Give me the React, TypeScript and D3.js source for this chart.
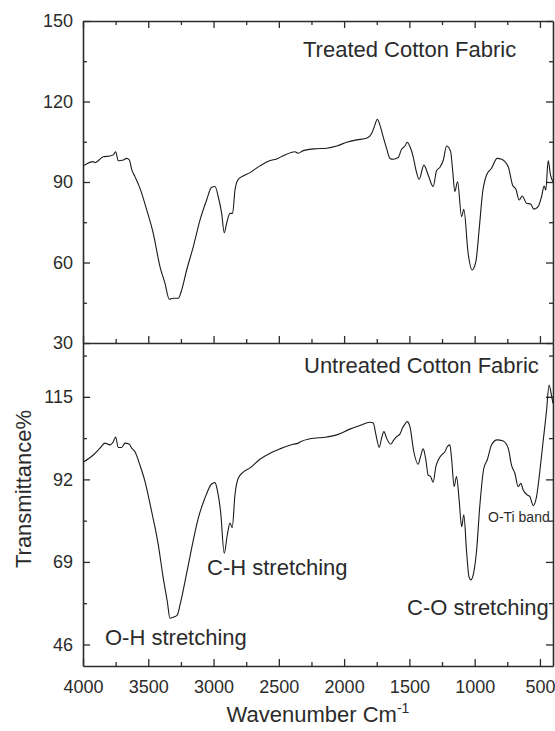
import { useEffect, useRef } from "react";
import * as d3 from "d3";

// spectra: wavenumber (cm-1) and transmittance %
const treatedWn = [
  3998, 3921, 3908, 3845, 3793, 3768, 3750, 3730, 3691, 3665, 3645, 3627, 3602, 3564, 3512, 3462,
  3410, 3372, 3339, 3309, 3270, 3244, 3206, 3155, 3104, 3053, 3015, 2989, 2964, 2938, 2918, 2900,
  2874, 2854, 2836, 2811, 2773, 2721, 2645, 2567, 2517, 2466, 2377, 2351, 2313, 2211, 2134, 2057,
  1981, 1904, 1828, 1789, 1764, 1746, 1726, 1701, 1675, 1649, 1624, 1586, 1560, 1534, 1517, 1496,
  1471, 1450, 1425, 1389, 1356, 1318, 1292, 1266, 1241, 1215, 1184, 1169, 1152, 1131, 1100, 1083,
  1050, 1019, 991, 966, 940, 909, 871, 828, 794, 743, 710, 684, 659, 636, 603, 572,
  547, 514, 488, 468, 455, 437, 419, 400,
];
const treatedPct = [
  96, 97.6, 97.2, 99.4, 99.7, 100.1, 101.3, 97.9, 98.2, 98.8, 98.2, 94.7, 92, 87.7, 79.6, 70.9,
  58.4, 52.2, 46.3, 46.7, 46.7, 49.8, 57.2, 65.9, 75.8, 83.3, 88, 88.3, 84.5, 78.3, 71.1, 74.6,
  78.3, 78.3, 87, 91, 92.2, 93.5, 96, 98, 98.6, 99.8, 101.3, 100.7, 101.7, 102.4, 102.6, 103.4,
  104.8, 105.7, 106.3, 108.1, 111.3, 113.4, 111.3, 106.9, 102.6, 98.8, 98.5, 99.1, 102.2, 103.4, 104.8, 103.2,
  99.4, 94.5, 91, 96.3, 92.6, 88.3, 94.2, 95.5, 98, 103.4, 101.3, 94.5, 86.4, 90.1, 77.1, 79.8,
  63.4, 57.2, 60.3, 72.1, 85.8, 92.6, 95.1, 98.8, 98.5, 95.7, 88.9, 87.3, 83.3, 84.8, 82.1, 81.8,
  79.9, 80.8, 84.5, 88.5, 87, 98, 92.6, 90.1,
];

const untreatedWn = [
  3998, 3921, 3870, 3832, 3793, 3768, 3750, 3730, 3704, 3678, 3645, 3627, 3602, 3564, 3525, 3474,
  3423, 3385, 3354, 3334, 3309, 3278, 3257, 3219, 3168, 3117, 3066, 3015, 2989, 2969, 2946, 2918,
  2895, 2874, 2857, 2836, 2811, 2773, 2721, 2645, 2567, 2492, 2390, 2351, 2338, 2262, 2134, 2057,
  1956, 1879, 1802, 1777, 1756, 1731, 1713, 1695, 1675, 1644, 1619, 1598, 1573, 1553, 1534, 1517,
  1496, 1466, 1433, 1414, 1394, 1376, 1356, 1338, 1318, 1297, 1279, 1254, 1228, 1210, 1190, 1177,
  1157, 1139, 1118, 1100, 1083, 1062, 1044, 1029, 1006, 986, 960, 930, 904, 871, 828, 782,
  743, 718, 692, 667, 646, 629, 598, 577, 552, 526, 501, 476, 450, 430, 412, 400,
];
const untreatedPct = [
  96.8, 98.8, 100.7, 102.1, 101.6, 102.5, 103.8, 100.9, 100.9, 102.1, 101.8, 100.7, 99.7, 96, 91.4, 83,
  73.7, 64.4, 57.9, 53.3, 53.6, 54.2, 57, 63.5, 72.8, 81.2, 86.8, 90.7, 91.1, 88.6, 83, 71.4,
  76.5, 79.8, 78.6, 87.7, 92.3, 94, 95.2, 97.6, 99.3, 100.5, 101.8, 102.1, 102.4, 103.3, 103.8, 104.4,
  106, 107, 107.9, 107.7, 104.4, 100.9, 103.5, 105.3, 103.5, 101.8, 103, 103.9, 104.6, 106.3, 107.4, 108.1,
  106.7, 99.7, 96.2, 98.4, 100.5, 97.9, 93.2, 92.8, 91.2, 95.6, 97.4, 98.8, 99.7, 101.1, 101.6, 97.9,
  90, 92.8, 85.8, 78.8, 82.1, 71.9, 64.9, 64, 66.3, 71.9, 84.9, 95.1, 97.4, 101.6, 103, 102.7,
  100.7, 96, 93.7, 90, 90.9, 89.1, 87.7, 87.2, 84.7, 87.2, 94.2, 102.5, 110.9, 118.3, 115.5, 113.2,
];

const xMajor = [4000, 3500, 3000, 2500, 2000, 1500, 1000, 500];
const xMinor = [3750, 3250, 2750, 2250, 1750, 1250, 750];
const topMajor = [30, 60, 90, 120, 150];
const topMinor = [45, 75, 105, 135];
const botMajor = [46, 69, 92, 115];
const botMinor = [57.5, 80.5, 103.5, 126.5];

const font = "'Liberation Sans', Arial, sans-serif";
const ink = "#2b2b2b";

const App = () => {
  const chartRef = useRef<SVGSVGElement>(null);

  useEffect(() => {
    document.body.style.margin = "0";
    const svg = d3.select(chartRef.current);
    svg.selectAll("*").remove();

    const left = 83, right = 553, top = 21, mid = 343, bottom = 666;

    const x = d3.scaleLinear().domain([4000, 400]).range([left, right]);
    const yTop = d3.scaleLinear().domain([30, 150]).range([mid, top]);
    const yBot = d3.scaleLinear().domain([40, 130]).range([bottom, mid]);
    const fmt = d3.format("d");

    // ticks pointing inward on every side
    const addAxis = (axis: any, tx: number, ty: number, labels: boolean) => {
      const g = svg.append("g").attr("transform", `translate(${tx},${ty})`).call(axis.tickFormat(fmt));
      g.selectAll("line").attr("stroke", ink).attr("stroke-width", 1.3);
      g.select(".domain").attr("stroke", ink).attr("stroke-width", 1.6);
      g.selectAll("text")
        .attr("fill", ink)
        .style("font-family", font)
        .style("font-size", "18px");
      if (!labels) g.selectAll("text").remove();
      return g;
    };
    const addMinor = (axis: any, tx: number, ty: number) => {
      const g = svg.append("g").attr("transform", `translate(${tx},${ty})`).call(axis);
      g.select(".domain").remove();
      g.selectAll("text").remove();
      g.selectAll("line").attr("stroke", ink).attr("stroke-width", 1.3);
    };

    // top panel
    addAxis(d3.axisLeft(yTop).tickValues(topMajor).tickSize(-7).tickSizeOuter(0).tickPadding(10), left, 0, true);
    addMinor(d3.axisLeft(yTop).tickValues(topMinor).tickSize(-4), left, 0);
    addAxis(d3.axisRight(yTop).tickValues(topMajor).tickSize(-7).tickSizeOuter(0), right, 0, false);
    addMinor(d3.axisRight(yTop).tickValues(topMinor).tickSize(-4), right, 0);
    addAxis(d3.axisTop(x).tickValues(xMajor).tickSize(-7).tickSizeOuter(0), 0, top, false);
    addMinor(d3.axisTop(x).tickValues(xMinor).tickSize(-4), 0, top);
    addAxis(d3.axisBottom(x).tickValues(xMajor).tickSize(-7).tickSizeOuter(0), 0, mid, false);
    addMinor(d3.axisBottom(x).tickValues(xMinor).tickSize(-4), 0, mid);

    // bottom panel
    addAxis(d3.axisLeft(yBot).tickValues(botMajor).tickSize(-7).tickSizeOuter(0).tickPadding(10), left, 0, true);
    addMinor(d3.axisLeft(yBot).tickValues(botMinor).tickSize(-4), left, 0);
    addAxis(d3.axisRight(yBot).tickValues(botMajor).tickSize(-7).tickSizeOuter(0), right, 0, false);
    addMinor(d3.axisRight(yBot).tickValues(botMinor).tickSize(-4), right, 0);
    addAxis(d3.axisBottom(x).tickValues(xMajor).tickSize(-7).tickSizeOuter(0).tickPadding(14), 0, bottom, true);
    addMinor(d3.axisBottom(x).tickValues(xMinor).tickSize(-4), 0, bottom);

    // spectra
    const topLine = d3
      .line<number>()
      .x((d) => x(d))
      .y((_, i) => yTop(treatedPct[i]))
      .curve(d3.curveMonotoneX);
    const botLine = d3
      .line<number>()
      .x((d) => x(d))
      .y((_, i) => yBot(untreatedPct[i]))
      .curve(d3.curveMonotoneX);

    svg.append("path").attr("d", topLine(treatedWn)).attr("fill", "none").attr("stroke", "#1a1a1a").attr("stroke-width", 1.1);
    svg.append("path").attr("d", botLine(untreatedWn)).attr("fill", "none").attr("stroke", "#1a1a1a").attr("stroke-width", 1.1);

    // labels
    const label = (txt: string, tx: number, ty: number, size: number) =>
      svg
        .append("text")
        .attr("x", tx)
        .attr("y", ty)
        .attr("fill", ink)
        .style("font-family", font)
        .style("font-size", `${size}px`)
        .text(txt);

    label("Treated Cotton Fabric", 303, 57, 22);
    label("Untreated Cotton Fabric", 304, 373, 22);
    label("C-H stretching", 207, 575, 22);
    label("O-H stretching", 105, 645, 22);
    label("C-O stretching", 407, 615, 22);
    label("O-Ti band", 488, 522, 14);

    svg
      .append("text")
      .attr("transform", "translate(31,489) rotate(-90)")
      .attr("text-anchor", "middle")
      .attr("fill", ink)
      .style("font-family", font)
      .style("font-size", "22px")
      .text("Transmittance%");

    const xt = svg
      .append("text")
      .attr("x", 318)
      .attr("y", 722)
      .attr("text-anchor", "middle")
      .attr("fill", ink)
      .style("font-family", font)
      .style("font-size", "22px");
    xt.append("tspan").text("Wavenumber Cm");
    xt.append("tspan").attr("dy", -9).style("font-size", "14px").text("-1");
  }, []);

  return <svg ref={chartRef} width={555} height={731} style={{ display: "block" }} />;
};

export default App;
